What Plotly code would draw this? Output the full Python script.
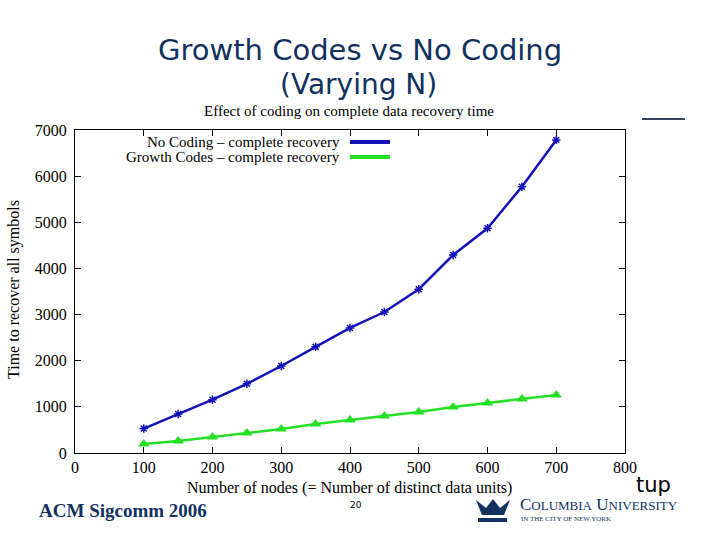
import plotly.graph_objects as go

nodes = [100, 150, 200, 250, 300, 350, 400, 450, 500, 550, 600, 650, 700]
no_coding = [530, 845, 1155, 1500, 1885, 2300, 2710, 3055, 3550, 4290, 4870, 5770, 6785]
growth_codes = [195, 262, 347, 434, 520, 629, 715, 802, 889, 997, 1084, 1170, 1257]
series_names = ["No Coding – complete recovery", "Growth Codes – complete recovery"]
x_ticks = [0, 100, 200, 300, 400, 500, 600, 700, 800]
y_ticks = [0, 1000, 2000, 3000, 4000, 5000, 6000, 7000]

BLUE = "#1212b8"
GREEN = "#22e022"
NAVY = "#12315e"
SERIF = "Liberation Serif, Times New Roman, serif"

W, H = 720, 540
L, R, T, B = 75, 625, 130, 453

fig = go.Figure()
fig.add_trace(go.Scatter(x=nodes, y=no_coding, mode="lines+markers", name=series_names[0],
                         line=dict(color=BLUE, width=2.5),
                         marker=dict(symbol="asterisk-open", size=7, color=BLUE, line=dict(color=BLUE, width=1.5)),
                         showlegend=False))
fig.add_trace(go.Scatter(x=nodes, y=growth_codes, mode="lines+markers", name=series_names[1],
                         line=dict(color=GREEN, width=2.5),
                         marker=dict(symbol="triangle-up", size=10, color=GREEN),
                         showlegend=False))

axis_common = dict(showline=True, linecolor="black", linewidth=1, mirror="ticks",
                   ticks="inside", ticklen=6, tickcolor="black", showgrid=False, zeroline=False,
                   tickfont=dict(family=SERIF, size=16, color="black"))
fig.update_xaxes(range=[0, 800], tickvals=x_ticks, **axis_common)
fig.update_yaxes(range=[0, 7000], tickvals=y_ticks, ticklabelstandoff=4, **axis_common)


def px(x):
    # pixel x -> paper coordinate (relative to plot area)
    return (x - L) / (R - L)


def py(y):
    # pixel y -> paper coordinate (relative to plot area)
    return (B - y) / (B - T)


annotations = [
    dict(text="Growth Codes vs No Coding", x=px(360), y=py(50), font=dict(family="DejaVu Sans", size=29, color=NAVY)),
    dict(text="(Varying N)", x=px(358), y=py(85), font=dict(family="DejaVu Sans", size=28, color=NAVY)),
    dict(text="Effect of coding on complete data recovery time", x=px(349), y=py(111),
         font=dict(family=SERIF, size=15, color="black")),
    dict(text="Number of nodes (= Number of distinct data units)", x=px(349), y=py(488),
         font=dict(family=SERIF, size=16, color="black")),
    dict(text="Time to recover all symbols", x=px(14), y=py(290), textangle=-90,
         font=dict(family=SERIF, size=16, color="black")),
    dict(text=series_names[0], x=px(342), y=py(142), xanchor="right",
         font=dict(family=SERIF, size=15, color="black")),
    dict(text=series_names[1], x=px(342), y=py(157), xanchor="right",
         font=dict(family=SERIF, size=15, color="black")),
    dict(text="tup", x=px(634), y=py(485), xanchor="left",
         font=dict(family="DejaVu Sans", size=21, color="black")),
    dict(text="<b>ACM Sigcomm 2006</b>", x=px(37), y=py(510), xanchor="left",
         font=dict(family=SERIF, size=19, color=NAVY)),
    dict(text="20", x=px(356), y=py(505), font=dict(family="DejaVu Sans", size=9, color="black")),
    dict(text="C<span style='font-size:13px'>OLUMBIA</span> U<span style='font-size:13px'>NIVERSITY</span>",
         x=px(518), y=py(504), xanchor="left",
         font=dict(family=SERIF, size=17, color=NAVY)),
    dict(text="IN THE CITY OF NEW YORK", x=px(519), y=py(519), xanchor="left",
         font=dict(family=SERIF, size=7, color=NAVY)),
]
for a in annotations:
    a.update(xref="paper", yref="paper", showarrow=False)
    a.setdefault("xanchor", "center")
    a.setdefault("yanchor", "middle")

shapes = [
    dict(type="line", x0=px(350), x1=px(390), y0=py(142), y1=py(142), line=dict(color=BLUE, width=4)),
    dict(type="line", x0=px(350), x1=px(390), y0=py(157), y1=py(157), line=dict(color=GREEN, width=4)),
    dict(type="line", x0=px(642), x1=px(685), y0=py(119), y1=py(119), line=dict(color="#3a3f66", width=2)),
    # crown logo approximation
    dict(type="rect", x0=px(478), x1=px(507), y0=py(518), y1=py(522), fillcolor=NAVY, line=dict(width=0)),
    dict(type="path",
         path=f"M {px(476)} {py(500)} L {px(482)} {py(515)} L {px(504)} {py(515)} L {px(510)} {py(500)} "
              f"L {px(500)} {py(508)} L {px(493)} {py(499)} L {px(486)} {py(508)} Z",
         fillcolor=NAVY, line=dict(width=0)),
]
for s in shapes:
    s.update(xref="paper", yref="paper")

fig.update_layout(width=W, height=H, margin=dict(l=L, r=W - R, t=T, b=H - B),
                  paper_bgcolor="white", plot_bgcolor="white",
                  annotations=annotations, shapes=shapes, showlegend=False)
fig.write_html("out.html")
